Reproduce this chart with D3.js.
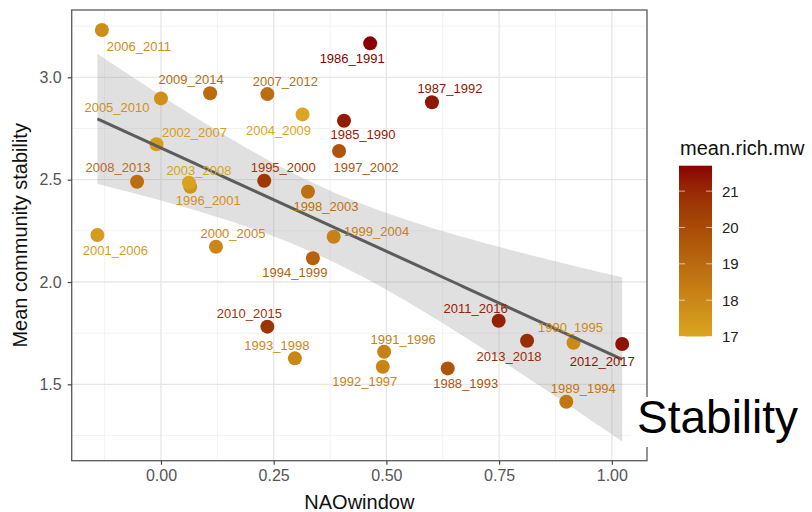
<!DOCTYPE html>
<html>
<head>
<meta charset="utf-8">
<script src="https://cdn.jsdelivr.net/npm/d3@7"></script>
<style>
  html, body { margin: 0; padding: 0; background: #fff; }
  svg { display: block; font-family: "Liberation Sans", Arial, Helvetica, sans-serif; }
</style>
</head>
<body>
<svg id="chart" width="812" height="512"></svg>
<script>
// Six-year moving windows
const windows = [
  "1985_1990","1986_1991","1987_1992","1988_1993","1989_1994","1990_1995",
  "1991_1996","1992_1997","1993_1998","1994_1999","1995_2000","1996_2001",
  "1997_2002","1998_2003","1999_2004","2000_2005","2001_2006","2002_2007",
  "2003_2008","2004_2009","2005_2010","2006_2011","2007_2012","2008_2013",
  "2009_2014","2010_2015","2011_2016","2012_2017","2013_2018"
];
// NAO index averaged over each window
const naoWindow = [
  0.406, 0.464, 0.601, 0.636, 0.899, 0.915,
  0.495, 0.492, 0.297, 0.337, 0.229, 0.065,
  0.395, 0.326, 0.383, 0.122, -0.141, -0.010,
  0.062, 0.314, 0.000, -0.131, 0.236, -0.053,
  0.109, 0.236, 0.749, 1.023, 0.812
];
// Mean community stability per window
const stability = [
  2.788, 3.166, 2.878, 1.578, 1.415, 1.703,
  1.659, 1.586, 1.627, 2.116, 2.495, 2.465,
  2.640, 2.441, 2.221, 2.172, 2.230, 2.673,
  2.485, 2.819, 2.897, 3.231, 2.918, 2.490,
  2.922, 1.782, 1.811, 1.697, 1.713
];
// Mean species richness (mean.rich.mw)
const richness = [
  21.3, 21.7, 21.4, 19.7, 18.6, 17.9,
  18.2, 18.1, 18.0, 19.3, 20.6, 17.6,
  19.7, 18.8, 18.2, 18.0, 17.3, 17.3,
  17.1, 17.0, 17.7, 17.8, 18.9, 18.9,
  19.0, 20.7, 21.2, 21.5, 20.9
];
// Axis breaks
const xTicks = [0, 0.25, 0.5, 0.75, 1.0];
const xMinor = [-0.125, 0.125, 0.375, 0.625, 0.875];
const yTicks = [1.5, 2.0, 2.5, 3.0];
const yMinor = [1.25, 1.75, 2.25, 2.75, 3.25];
const legendTicks = [17, 18, 19, 20, 21];

// Label nudges (px) so the window names sit clear of their points
const labelNudge = {
  "2006_2011": [37, 16], "2009_2014": [-19, -14], "2007_2012": [18, -13],
  "2005_2010": [-44, 9], "2004_2009": [-24, 16], "2002_2007": [38, -12],
  "2008_2013": [-19, -14], "2003_2008": [10, -12], "1996_2001": [18, 14],
  "1995_2000": [19, -13], "1998_2003": [18, 15], "1986_1991": [-18, 15],
  "1987_1992": [18, -14], "1985_1990": [19, 14], "1997_2002": [27, 16],
  "2001_2006": [18, 16], "2000_2005": [17, -13], "1994_1999": [-18, 14],
  "1999_2004": [43, -5], "2010_2015": [-18, -13], "1993_1998": [-18, -13],
  "1991_1996": [19, -12], "1992_1997": [-18, 15], "1988_1993": [18, 15],
  "2011_2016": [-23, -12], "2013_2018": [-18, 16], "1990_1995": [-3, -15],
  "2012_2017": [-20, 17], "1989_1994": [17, -13]
};

const data = windows.map((w, i) => ({
  label: w, x: naoWindow[i], y: stability[i], rich: richness[i]
}));

const svg = d3.select("#chart");
const panel = { left: 71.7, right: 647, top: 10, bottom: 460.7 };

const x = d3.scaleLinear().domain([-0.198, 1.078]).range([panel.left, panel.right]);
const y = d3.scaleLinear().domain([1.127, 3.329]).range([panel.bottom, panel.top]);
const richExtent = d3.extent(richness);
const color = d3.scaleLinear().domain(richExtent)
  .range(["#DAA520", "#8B0000"]).interpolate(d3.interpolateLab);

// Panel background and grid
svg.append("rect").attr("x", panel.left).attr("y", panel.top)
  .attr("width", panel.right - panel.left).attr("height", panel.bottom - panel.top)
  .attr("fill", "#fff");

const grid = svg.append("g");
grid.selectAll(".xminor").data(xMinor).join("line")
  .attr("x1", d => x(d)).attr("x2", d => x(d))
  .attr("y1", panel.top).attr("y2", panel.bottom)
  .attr("stroke", "#efefef").attr("stroke-width", 0.8);
grid.selectAll(".yminor").data(yMinor).join("line")
  .attr("x1", panel.left).attr("x2", panel.right)
  .attr("y1", d => y(d)).attr("y2", d => y(d))
  .attr("stroke", "#efefef").attr("stroke-width", 0.8);
grid.selectAll(".xmajor").data(xTicks).join("line")
  .attr("x1", d => x(d)).attr("x2", d => x(d))
  .attr("y1", panel.top).attr("y2", panel.bottom)
  .attr("stroke", "#e6e6e6").attr("stroke-width", 1.3);
grid.selectAll(".ymajor").data(yTicks).join("line")
  .attr("x1", panel.left).attr("x2", panel.right)
  .attr("y1", d => y(d)).attr("y2", d => y(d))
  .attr("stroke", "#e6e6e6").attr("stroke-width", 1.3);

// Linear fit with 95% confidence band
const n = data.length;
const mx = d3.mean(data, d => d.x), my = d3.mean(data, d => d.y);
const sxx = d3.sum(data, d => (d.x - mx) ** 2);
const sxy = d3.sum(data, d => (d.x - mx) * (d.y - my));
const slope = sxy / sxx, intercept = my - slope * mx;
const rss = d3.sum(data, d => (d.y - (intercept + slope * d.x)) ** 2);
const s = Math.sqrt(rss / (n - 2));
const tCrit = 2.0518; // qt(0.975, 27)
const [xLo, xHi] = d3.extent(naoWindow);
const fit = d3.range(0, 81).map(k => {
  const xv = xLo + (xHi - xLo) * k / 80;
  const yv = intercept + slope * xv;
  const se = s * Math.sqrt(1 / n + (xv - mx) ** 2 / sxx);
  return { x: xv, y: yv, lo: yv - tCrit * se, hi: yv + tCrit * se };
});

svg.append("path").datum(fit)
  .attr("d", d3.area().x(d => x(d.x)).y0(d => y(d.lo)).y1(d => y(d.hi)))
  .attr("fill", "#999").attr("fill-opacity", 0.3);

// Points
svg.append("g").selectAll("circle").data(data).join("circle")
  .attr("cx", d => x(d.x)).attr("cy", d => y(d.y)).attr("r", 7)
  .attr("fill", d => color(d.rich));

// Fit line drawn over the points
svg.append("path").datum(fit)
  .attr("d", d3.line().x(d => x(d.x)).y(d => y(d.y)))
  .attr("fill", "none").attr("stroke", "#5c5c5c").attr("stroke-width", 3);

// Window labels
svg.append("g").selectAll("text").data(data).join("text")
  .attr("x", d => x(d.x) + (labelNudge[d.label] || [0, 0])[0])
  .attr("y", d => y(d.y) + (labelNudge[d.label] || [0, 0])[1])
  .attr("text-anchor", "middle").attr("dominant-baseline", "central")
  .attr("font-size", 13).attr("fill", d => color(d.rich))
  .text(d => d.label);

// Panel border
svg.append("rect").attr("x", panel.left).attr("y", panel.top)
  .attr("width", panel.right - panel.left).attr("height", panel.bottom - panel.top)
  .attr("fill", "none").attr("stroke", "#5a5a5a").attr("stroke-width", 1.3);

// Axes
const xAxis = svg.append("g").attr("transform", `translate(0,${panel.bottom})`)
  .call(d3.axisBottom(x).tickValues(xTicks).tickFormat(d3.format(".2f")).tickSize(4).tickPadding(5));
const yAxis = svg.append("g").attr("transform", `translate(${panel.left},0)`)
  .call(d3.axisLeft(y).tickValues(yTicks).tickFormat(d3.format(".1f")).tickSize(4).tickPadding(6));
[xAxis, yAxis].forEach(g => {
  g.select(".domain").remove();
  g.selectAll(".tick line").attr("stroke", "#444").attr("stroke-width", 1.2);
  g.selectAll(".tick text").attr("fill", "#555").attr("font-size", 16)
    .attr("font-family", "Liberation Sans, Arial, sans-serif");
});

svg.append("text").attr("x", (panel.left + panel.right) / 2).attr("y", 502)
  .attr("text-anchor", "middle").attr("dominant-baseline", "central")
  .attr("font-size", 20).attr("fill", "#111").text("NAOwindow");
svg.append("text")
  .attr("transform", `translate(20,${(panel.top + panel.bottom) / 2}) rotate(-90)`)
  .attr("text-anchor", "middle").attr("dominant-baseline", "central")
  .attr("font-size", 20).attr("fill", "#111").text("Mean community stability");

// Colour bar legend
const bar = { x: 679, w: 33 };
const ly = d3.scaleLinear().domain(richExtent).range([336.5, 165.7]);
const defs = svg.append("defs");
const grad = defs.append("linearGradient").attr("id", "richGrad")
  .attr("x1", 0).attr("y1", 1).attr("x2", 0).attr("y2", 0);
d3.range(0, 11).forEach(k => {
  grad.append("stop").attr("offset", k / 10)
    .attr("stop-color", color(richExtent[0] + (richExtent[1] - richExtent[0]) * k / 10));
});
svg.append("text").attr("x", 680).attr("y", 148)
  .attr("dominant-baseline", "central").attr("font-size", 20).attr("fill", "#111")
  .text("mean.rich.mw");
svg.append("rect").attr("x", bar.x).attr("y", ly(richExtent[1]))
  .attr("width", bar.w).attr("height", ly(richExtent[0]) - ly(richExtent[1]))
  .attr("fill", "url(#richGrad)");
const lg = svg.append("g");
lg.selectAll(".tl").data(legendTicks).join("line")
  .attr("x1", bar.x).attr("x2", bar.x + 6).attr("y1", d => ly(d)).attr("y2", d => ly(d))
  .attr("stroke", "#fff").attr("stroke-opacity", 0.6).attr("stroke-width", 1);
lg.selectAll(".tr").data(legendTicks).join("line")
  .attr("x1", bar.x + bar.w - 6).attr("x2", bar.x + bar.w).attr("y1", d => ly(d)).attr("y2", d => ly(d))
  .attr("stroke", "#fff").attr("stroke-opacity", 0.6).attr("stroke-width", 1);
lg.selectAll("text").data(legendTicks).join("text")
  .attr("x", 722).attr("y", d => ly(d)).attr("dominant-baseline", "central")
  .attr("font-size", 15).attr("fill", "#222").text(d => d);

// Caption
svg.append("rect").attr("x", 631).attr("y", 397).attr("width", 181).attr("height", 50)
  .attr("fill", "#fff");
svg.append("text").attr("x", 637).attr("y", 433)
  .attr("font-size", 46).attr("fill", "#000").text("Stability");
</script>
</body>
</html>
